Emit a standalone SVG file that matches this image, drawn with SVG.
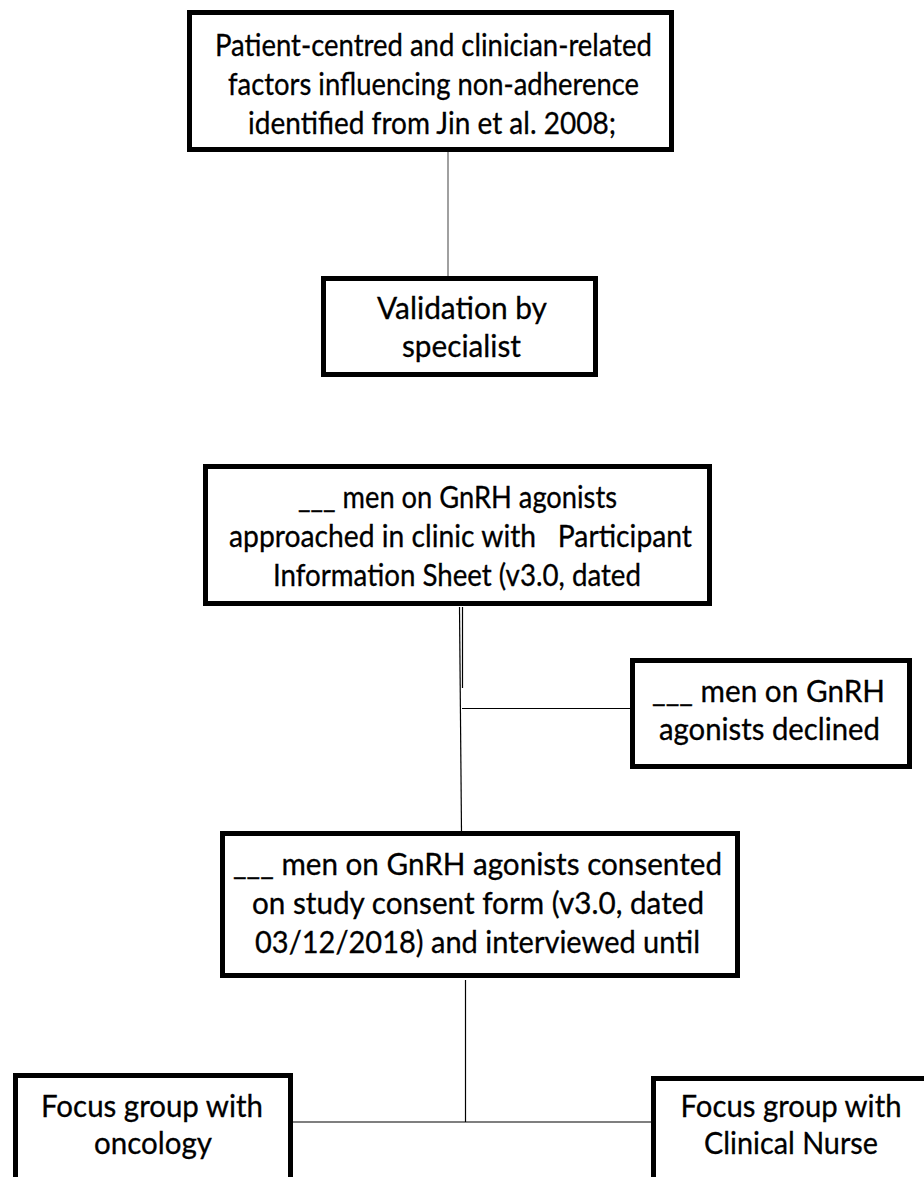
<svg xmlns="http://www.w3.org/2000/svg" width="924" height="1177" viewBox="0 0 924 1177">
  <style>
    .box { fill: #ffffff; stroke: #000000; stroke-width: 5; }
    .lbl { font-family: Lato, "Open Sans", "Liberation Sans", sans-serif; font-size: 31px; fill: #000000; stroke: #000000; stroke-width: 0.3; text-anchor: middle; white-space: pre; }
    .link { stroke: #000000; stroke-width: 1.2; fill: none; }
    .link-grey { stroke: #808080; stroke-width: 1.5; fill: none; }
  </style>
  <rect width="924" height="1177" fill="#ffffff"/>

  <g id="connectors">
    <line class="link-grey" x1="448" y1="152" x2="448" y2="278"/>
    <line class="link" x1="459.5" y1="607" x2="461.5" y2="832"/>
    <line class="link" x1="462.5" y1="607" x2="462.5" y2="688" stroke-width="1.6"/>
    <line class="link" x1="462" y1="708.5" x2="631" y2="708.5"/>
    <line class="link" x1="465.5" y1="980" x2="465.5" y2="1122"/>
    <line class="link" x1="292" y1="1122" x2="652" y2="1122"/>
  </g>

  <g id="factors">
    <rect class="box" x="189.5" y="12.5" width="482" height="137"/>
    <text class="lbl" x="433.5" y="56" textLength="437" lengthAdjust="spacingAndGlyphs">Patient-centred and clinician-related</text>
    <text class="lbl" x="433.5" y="95" textLength="411" lengthAdjust="spacingAndGlyphs">factors influencing non-adherence</text>
    <text class="lbl" x="432" y="134" textLength="368" lengthAdjust="spacingAndGlyphs">identified from Jin et al. 2008;</text>
  </g>

  <g id="validation">
    <rect class="box" x="323.5" y="278.5" width="272" height="96"/>
    <text class="lbl" x="462" y="319" textLength="170" lengthAdjust="spacingAndGlyphs">Validation by</text>
    <text class="lbl" x="461.5" y="357" textLength="119" lengthAdjust="spacingAndGlyphs">specialist</text>
  </g>

  <g id="approached">
    <rect class="box" x="205.5" y="466.5" width="504" height="137"/>
    <text class="lbl" x="457.5" y="508" textLength="319" lengthAdjust="spacingAndGlyphs">___ men on GnRH agonists</text>
    <text class="lbl" x="460.5" y="547" textLength="463" lengthAdjust="spacingAndGlyphs">approached in clinic with   Participant</text>
    <text class="lbl" x="457" y="586" textLength="368" lengthAdjust="spacingAndGlyphs">Information Sheet (v3.0, dated</text>
  </g>

  <g id="declined">
    <rect class="box" x="632.5" y="660.5" width="277" height="106"/>
    <text class="lbl" x="768.5" y="702" textLength="233" lengthAdjust="spacingAndGlyphs">___ men on GnRH</text>
    <text class="lbl" x="769.5" y="740" textLength="221" lengthAdjust="spacingAndGlyphs">agonists declined</text>
  </g>

  <g id="consented">
    <rect class="box" x="222.5" y="833.5" width="515" height="142"/>
    <text class="lbl" x="477.5" y="875" textLength="489" lengthAdjust="spacingAndGlyphs">___ men on GnRH agonists consented</text>
    <text class="lbl" x="478" y="914" textLength="452" lengthAdjust="spacingAndGlyphs">on study consent form (v3.0, dated</text>
    <text class="lbl" x="477.5" y="953" textLength="445" lengthAdjust="spacingAndGlyphs">03/12/2018) and interviewed until</text>
  </g>

  <g id="focus-oncology">
    <rect class="box" x="15.5" y="1075.5" width="275" height="125"/>
    <text class="lbl" x="152" y="1117" textLength="222" lengthAdjust="spacingAndGlyphs">Focus group with</text>
    <text class="lbl" x="153" y="1154" textLength="118" lengthAdjust="spacingAndGlyphs">oncology</text>
  </g>

  <g id="focus-nurse">
    <rect class="box" x="653.5" y="1078.5" width="290" height="125"/>
    <text class="lbl" x="791" y="1117" textLength="221" lengthAdjust="spacingAndGlyphs">Focus group with</text>
    <text class="lbl" x="791" y="1154" textLength="174" lengthAdjust="spacingAndGlyphs">Clinical Nurse</text>
  </g>
</svg>
